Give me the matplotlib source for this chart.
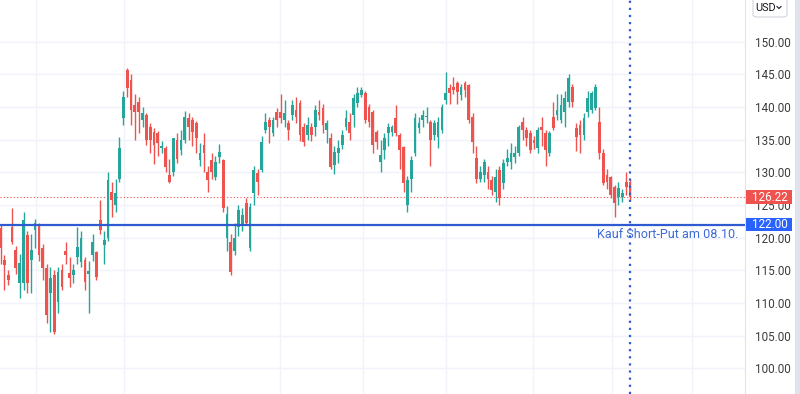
import matplotlib
matplotlib.use("Agg")
import matplotlib.pyplot as plt
from matplotlib.patches import Rectangle, FancyBboxPatch
from matplotlib.lines import Line2D
from matplotlib.transforms import blended_transform_factory

# daily candles, oldest first
opens = [121.5, 116.6, 114.3, 121.6, 118.1, 113.1, 113.1, 120.4, 116.6, 121.2,
         122.0, 118.4, 115.4, 111.5, 114.3, 110.2, 115.1, 118.0, 114.6, 114.3,
         117.0, 116.3, 116.6, 114.5, 117.4, 117.8, 122.7, 118.9, 120.0, 127.0,
         125.0, 129.0, 138.3, 145.6, 144.1, 140.3, 140.7, 138.0, 138.8, 137.0,
         136.2, 136.0, 133.7, 133.7, 129.6, 130.0, 135.0, 133.4, 135.0, 138.3,
         138.0, 137.5, 131.9, 134.2, 130.0, 131.9, 129.3, 132.3, 131.9, 120.0,
         119.3, 118.0, 121.7, 122.0, 125.3, 118.4, 126.8, 129.9, 130.3, 136.5,
         138.0, 136.0, 139.2, 139.2, 138.0, 137.5, 138.8, 139.5, 140.6, 137.0,
         135.7, 137.0, 137.0, 139.2, 139.8, 136.5, 135.2, 131.1, 132.9, 134.2,
         137.0, 137.7, 138.8, 140.6, 141.8, 142.1, 140.0, 139.2, 136.2, 131.6,
         133.4, 136.0, 136.2, 138.3, 135.7, 133.9, 125.0, 129.0, 133.0, 136.8,
         138.0, 138.4, 137.7, 135.7, 135.4, 136.5, 141.0, 142.9, 143.0, 143.6,
         141.8, 143.6, 143.3, 138.5, 132.2, 129.0, 129.6, 130.0, 128.8, 127.0,
         130.3, 128.4, 131.6, 131.6, 132.4, 133.0, 137.7, 136.5, 136.0, 135.0,
         133.7, 137.0, 136.0, 133.0, 138.5, 138.8, 138.0, 139.2, 140.7, 143.1,
         136.8, 137.2, 135.7, 139.2, 139.5, 139.8, 137.7, 133.0, 129.6, 129.3,
         127.8, 126.2, 126.2, 128.5, 128.5]
highs = [122.0, 117.4, 115.0, 124.5, 118.8, 117.5, 124.0, 121.0, 120.5, 122.8,
         122.3, 119.0, 116.0, 115.5, 115.0, 115.5, 116.0, 119.3, 117.0, 116.0,
         121.6, 121.0, 117.0, 116.5, 120.5, 118.0, 125.8, 121.0, 130.0, 128.5,
         129.0, 135.4, 142.5, 146.0, 145.0, 142.0, 141.5, 140.0, 139.0, 137.5,
         136.8, 136.3, 134.8, 134.0, 132.0, 135.3, 136.0, 136.5, 139.4, 139.0,
         138.5, 137.8, 134.5, 136.0, 131.0, 133.0, 132.5, 134.3, 132.0, 124.8,
         120.5, 122.3, 125.0, 124.5, 126.0, 125.3, 131.0, 130.5, 135.5, 139.0,
         138.5, 138.5, 139.8, 142.0, 141.0, 138.0, 141.0, 141.5, 141.0, 137.5,
         138.5, 137.5, 140.3, 141.0, 140.5, 138.0, 136.0, 134.0, 135.0, 136.5,
         139.5, 139.0, 142.0, 143.0, 143.0, 142.5, 140.5, 139.5, 136.5, 135.0,
         136.0, 137.5, 137.3, 140.3, 136.0, 134.0, 129.5, 132.5, 139.0, 138.5,
         139.5, 140.0, 138.0, 138.0, 138.5, 140.5, 145.3, 143.5, 144.5, 144.0,
         143.5, 144.0, 143.5, 139.0, 134.0, 131.0, 132.0, 131.0, 129.5, 130.5,
         131.0, 132.0, 133.5, 134.5, 134.0, 137.3, 138.5, 137.0, 136.5, 135.5,
         137.0, 138.5, 136.5, 136.3, 140.7, 142.0, 142.0, 142.5, 145.0, 143.5,
         137.5, 138.0, 139.0, 142.5, 142.5, 143.5, 140.0, 133.5, 130.5, 129.5,
         128.0, 128.5, 127.5, 130.0, 129.0]
lows = [116.0, 112.0, 112.8, 119.0, 114.5, 110.8, 112.0, 111.5, 111.6, 118.5,
        116.5, 113.5, 107.0, 105.6, 105.3, 108.5, 112.0, 116.0, 112.4, 113.0,
        116.0, 115.5, 112.0, 108.5, 116.5, 113.5, 120.5, 116.0, 119.5, 123.2,
        124.0, 128.5, 137.2, 141.5, 137.3, 135.0, 136.0, 137.0, 134.2, 133.0,
        131.2, 132.5, 133.0, 130.0, 128.3, 129.4, 131.5, 132.7, 134.5, 135.0,
        134.0, 133.0, 131.0, 130.0, 127.0, 129.0, 128.8, 131.5, 124.0, 118.0,
        114.3, 117.3, 120.3, 121.0, 122.0, 118.0, 125.0, 126.5, 130.0, 136.0,
        134.5, 135.5, 137.0, 137.5, 137.0, 135.0, 138.0, 137.5, 134.8, 134.0,
        135.0, 134.8, 135.5, 138.0, 136.0, 134.5, 130.5, 129.8, 131.5, 133.5,
        136.5, 135.0, 137.0, 140.0, 141.5, 137.5, 137.0, 133.0, 133.5, 130.0,
        132.0, 134.0, 135.5, 135.5, 130.5, 127.0, 124.0, 127.0, 132.5, 136.0,
        137.0, 137.5, 131.0, 135.0, 133.7, 136.0, 140.5, 140.5, 142.0, 140.5,
        141.0, 141.5, 137.5, 133.0, 128.3, 128.5, 128.5, 127.5, 126.5, 125.5,
        125.0, 127.5, 131.0, 130.5, 131.5, 132.5, 135.0, 134.0, 133.0, 133.5,
        133.0, 134.0, 131.0, 132.5, 136.5, 138.0, 137.5, 137.0, 140.0, 140.0,
        133.3, 133.0, 135.0, 138.5, 139.0, 139.5, 132.0, 128.0, 127.5, 126.0,
        123.2, 125.0, 125.5, 126.5, 125.8]
closes = [118.5, 115.8, 113.5, 119.3, 115.4, 116.1, 122.7, 113.1, 118.1, 122.2,
          117.4, 115.4, 108.2, 113.8, 105.6, 114.8, 112.5, 117.4, 113.9, 115.0,
          118.6, 120.0, 113.3, 114.9, 119.4, 114.0, 121.2, 119.7, 128.8, 125.8,
          126.8, 133.7, 141.5, 142.9, 139.5, 139.2, 139.2, 139.1, 135.0, 135.0,
          134.2, 134.5, 134.0, 130.8, 128.5, 135.2, 132.0, 135.0, 138.5, 137.0,
          136.2, 135.2, 133.0, 133.0, 128.8, 130.0, 131.6, 133.1, 124.5, 123.7,
          114.8, 119.9, 124.2, 123.5, 122.3, 124.7, 130.3, 128.5, 134.6, 137.7,
          137.0, 138.0, 138.0, 138.3, 139.1, 136.5, 140.3, 138.5, 135.7, 134.6,
          137.2, 135.7, 139.5, 138.8, 137.2, 137.5, 130.8, 133.1, 133.7, 135.7,
          138.3, 136.0, 141.4, 142.1, 142.6, 138.0, 137.7, 134.2, 134.6, 132.6,
          135.2, 137.0, 137.0, 136.0, 133.4, 128.4, 128.9, 131.9, 138.3, 137.5,
          138.8, 138.6, 135.0, 137.5, 137.7, 140.0, 142.1, 142.1, 142.6, 142.3,
          143.0, 142.6, 138.0, 134.6, 129.0, 130.0, 131.6, 129.0, 127.3, 129.3,
          126.0, 131.4, 132.2, 133.0, 133.0, 137.0, 136.5, 135.2, 133.4, 134.5,
          136.5, 136.5, 133.4, 136.0, 136.8, 139.5, 140.3, 141.4, 144.4, 140.7,
          135.4, 135.7, 138.3, 141.4, 142.1, 143.0, 133.0, 128.4, 128.5, 126.5,
          125.3, 127.6, 126.8, 127.8, 126.22]

price_ticks = [100, 105, 110, 115, 120, 125, 130, 135, 140, 145, 150]
month_lines = [9.2, 32.2, 72.8, 94.4, 116.0, 138.7, 159.3, 180.1]  # candle index of month starts
last_price = 126.22
put_strike = 122.00
put_label = "Kauf Short-Put am 08.10."
buy_day = len(closes) - 1

up_col = "#26a69a"
down_col = "#ef5350"
blue = "#2962ff"

fig = plt.figure(figsize=(8, 3.94), dpi=100)
ax = fig.add_axes([0, 0, 745 / 800, 1])

dx = 629.5 / (len(closes) - 1)  # pixels per candle
ax.set_xlim(-0.5 / dx, 744.5 / dx)
ax.set_ylim(96.1, 156.35)

for p in price_ticks:
    ax.axhline(p, color="#f0f3fa", lw=1, zorder=0)
for m in month_lines:
    ax.axvline(m, color="#f0f3fa", lw=1, zorder=0)

idx = list(range(len(closes)))
cols = [up_col if c >= o else down_col for o, c in zip(opens, closes)]
ax.vlines(idx, lows, highs, colors=cols, lw=1, zorder=2)
bottoms = [min(o, c) for o, c in zip(opens, closes)]
heights = [max(abs(c - o), 0.15) for o, c in zip(opens, closes)]
ax.bar(idx, heights, bottom=bottoms, width=0.72, color=cols, lw=0, zorder=3)

ax.axhline(last_price, color=down_col, lw=0.8, ls=(0, (1, 2)), zorder=1)
ax.axhline(put_strike, color="#2f5bd0", lw=1.6, zorder=4)
ax.axvline(buy_day, color="#2f5bd0", lw=1.6, ls=(0, (1, 2.2)), zorder=4)
ax.text(738 / dx, 120.55, put_label, color="#3f6bd8", fontsize=9.05,
        ha="right", va="center", family="Roboto", zorder=5)

ax.yaxis.tick_right()
ax.set_yticks(price_ticks)
ax.set_yticklabels([f"{p:.2f}" for p in price_ticks])
ax.tick_params(axis="y", length=0, pad=7.5, labelsize=8.4, labelcolor="#3c3c3c")
for lab in ax.get_yticklabels():
    lab.set_family("Roboto")
ax.set_xticks([])
for s in ["left", "top", "bottom"]:
    ax.spines[s].set_visible(False)
ax.spines["right"].set_color("#e0e3eb")

# price tags on the scale
tr = blended_transform_factory(fig.transFigure, ax.transData)
for val, col in [(last_price, down_col), (put_strike, blue)]:
    ax.add_patch(Rectangle((746 / 800, val - 1.0), 46 / 800, 2.0, transform=tr,
                           facecolor=col, edgecolor="none", clip_on=False, zorder=6))
    ax.text(770 / 800, val, f"{val:.2f}", transform=tr, color="white", fontsize=8.4,
            family="Roboto", ha="center", va="center", zorder=7, clip_on=False)

# currency selector
fig.patches.append(FancyBboxPatch((753 / 800, 377 / 394), 34 / 800, 21 / 394,
                                  boxstyle="round,pad=0,rounding_size=0.006",
                                  transform=fig.transFigure, facecolor="white",
                                  edgecolor="#d1d4dc", lw=0.8))
fig.text(766 / 800, 386 / 394, "USD", fontsize=7.8, color="#131722",
         family="Roboto", ha="center", va="center")
fig.lines.append(Line2D([777 / 800, 779 / 800, 781 / 800],
                        [387.5 / 394, 385.5 / 394, 387.5 / 394],
                        transform=fig.transFigure, color="#131722", lw=0.8))
fig.patches.append(Rectangle((795 / 800, 0), 5 / 800, 1, transform=fig.transFigure,
                             facecolor="#e0e3eb", edgecolor="none"))

fig.savefig("out.png", dpi=100, facecolor="white")
